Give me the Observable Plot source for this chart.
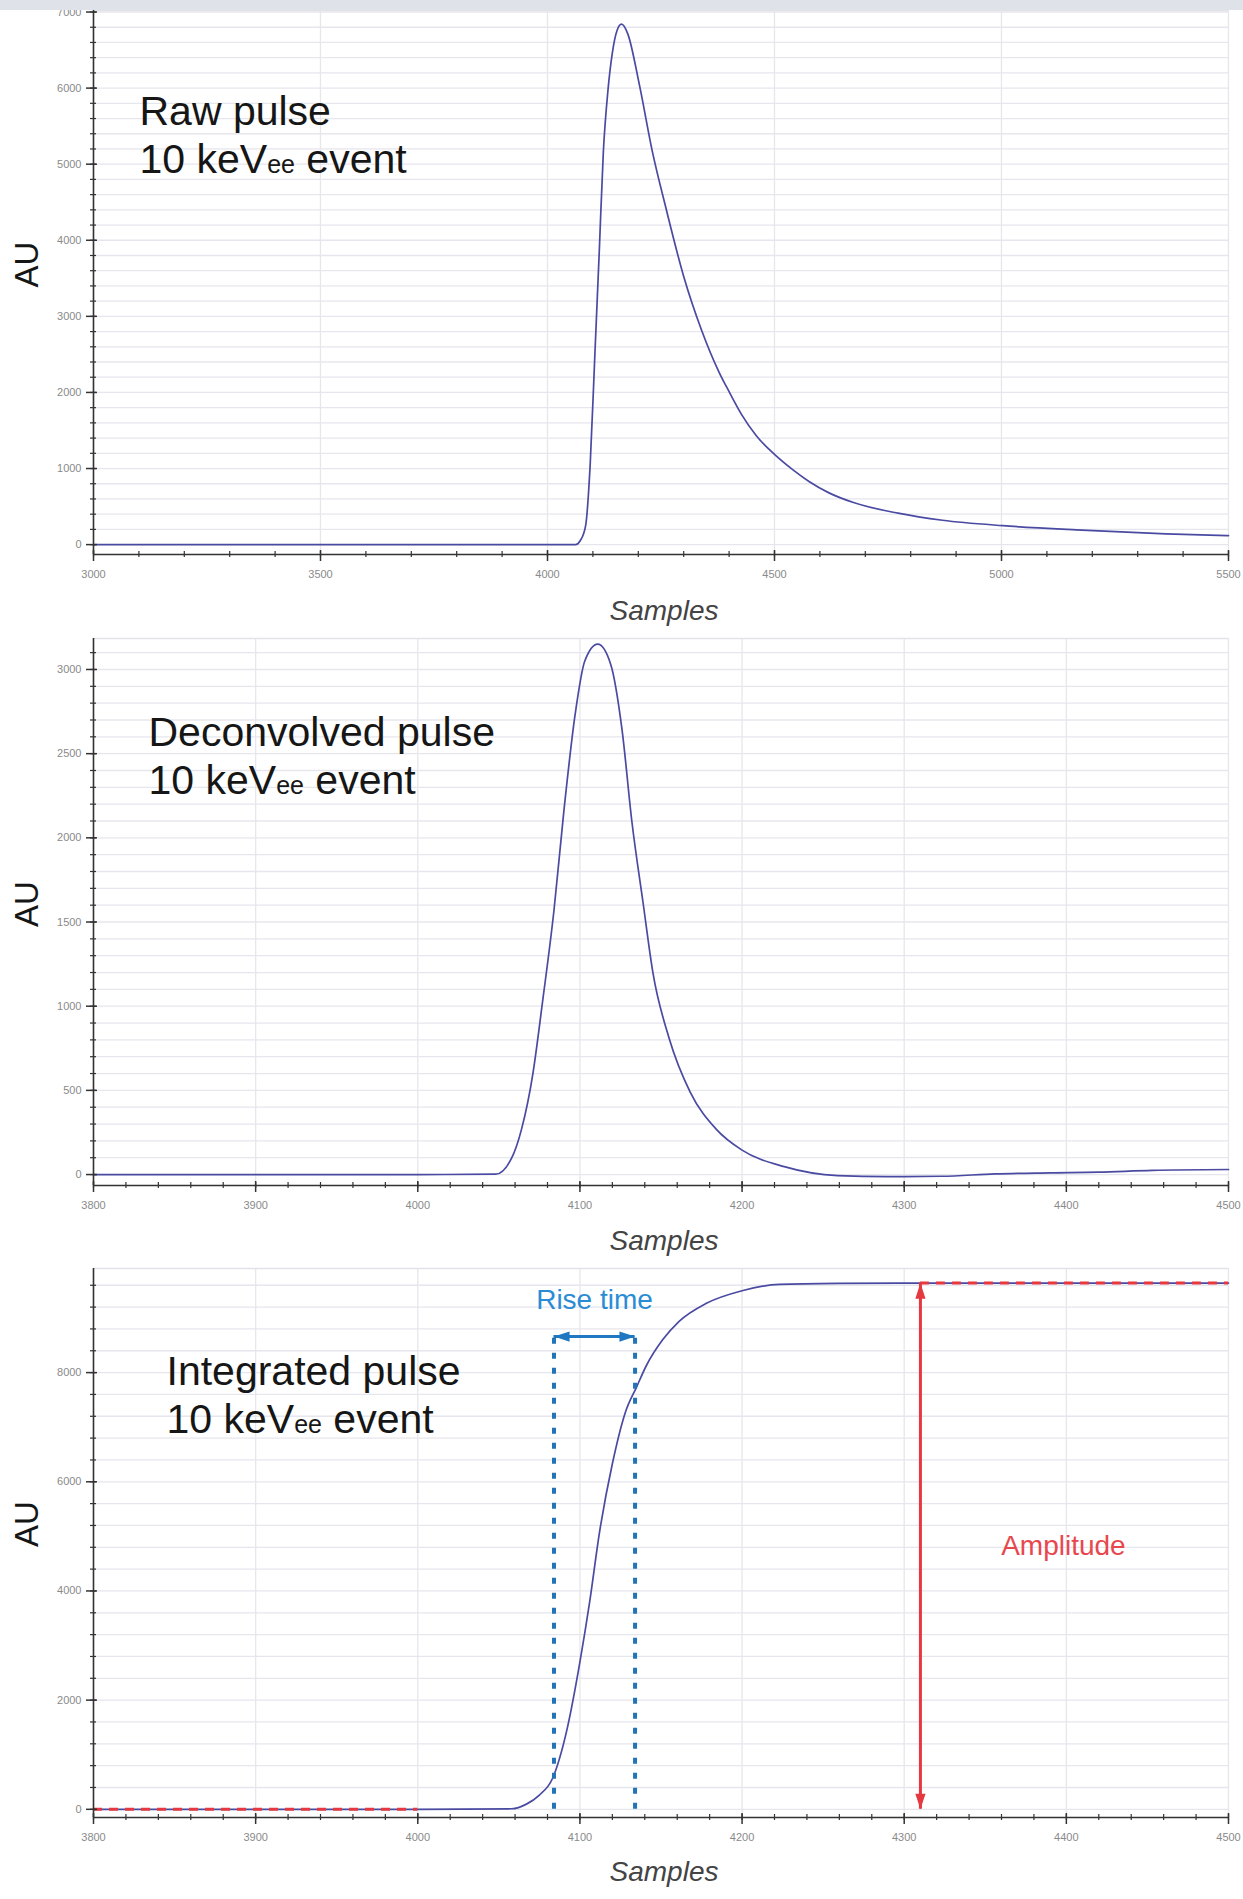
<!DOCTYPE html>
<html>
<head>
<meta charset="utf-8">
<script src="https://cdn.jsdelivr.net/npm/d3@7"></script>
<script src="https://cdn.jsdelivr.net/npm/@observablehq/plot@0.6"></script>
<style>
  body { margin: 0; background: #fff; }
  #page { position: relative; width: 1243px; height: 1899px; overflow: hidden; background: #fff; }
  #band { position: absolute; left: 0; top: 0; width: 1243px; height: 10px; background: #dfe2e8; z-index: 2; }
  #page svg { display: block; }
</style>
</head>
<body>
<div id="page"><div id="band"></div></div>
<script>
// Raw pulse trace (samples, AU)
const rawSamples = [3000, 3500, 4000, 4062, 4072, 4084, 4094, 4104, 4114, 4123, 4133, 4143, 4153, 4163, 4177, 4202, 4231, 4261, 4300, 4339, 4378, 4400, 4428, 4460, 4500, 4540, 4576, 4620, 4674, 4772, 4870, 5003, 5165, 5362, 5500];
const rawAU      = [0, 0, 0, 0, 50, 250, 1050, 2450, 3850, 5160, 5960, 6470, 6755, 6840, 6710, 6055, 5165, 4420, 3525, 2825, 2265, 2010, 1705, 1430, 1185, 985, 830, 680, 553, 413, 320, 249, 193, 142, 118];

// Deconvolved pulse trace
const deconvSamples = [3800, 3900, 4000, 4048, 4058, 4064, 4071, 4077, 4084, 4090, 4097, 4103, 4111, 4119, 4126, 4132, 4139, 4145, 4155, 4168, 4184, 4200, 4226, 4259, 4290, 4323, 4356, 4390, 4420, 4453, 4500];
const deconvAU      = [0, 0, 0, 2, 100, 270, 600, 1030, 1570, 2150, 2730, 3050, 3150, 3030, 2640, 2100, 1610, 1200, 810, 490, 270, 145, 47, -6, -12, -10, 4, 10, 14, 25, 30];

// Integrated pulse trace
const intSamples = [3800, 3900, 4000, 4058, 4067, 4075, 4083, 4092, 4100, 4106, 4112, 4120, 4128, 4135, 4141, 4151, 4161, 4178, 4200, 4223, 4260, 4300, 4400, 4500];
const intAU      = [0, 0, 0, 10, 95, 260, 560, 1460, 2700, 3800, 5060, 6330, 7270, 7740, 8130, 8600, 8935, 9270, 9500, 9617, 9635, 9640, 9640, 9640];

// Annotations on the integrated pulse
const baselineSpan = [3800, 4000];
const amplitudeSample = 4310;
const amplitudeAU = 9640;
const riseEdges = [4084, 4134];
const riseLevel = 8660;

// Tick labels
const rawXTicks = [3000, 3500, 4000, 4500, 5000, 5500];
const rawYTicks = [0, 1000, 2000, 3000, 4000, 5000, 6000, 7000];
const zoomXTicks = [3800, 3900, 4000, 4100, 4200, 4300, 4400, 4500];
const deconvYTicks = [0, 500, 1000, 1500, 2000, 2500, 3000];
const intYTicks = [0, 2000, 4000, 6000, 8000];

const titles = ["Raw pulse", "Deconvolved pulse", "Integrated pulse"];
const eventLine = "10 keVee event";

const ink = "#333";
const gridColor = "#e6e6ed";
const traceColor = "#4a4aa2";
const red = "#e5393f";
const blue = "#1f78c1";

const zip = (xs, ys) => xs.map((x, i) => ({x, y: ys[i]}));

// Narrow filled arrowhead with its tip at the anchor point, pointing up
const arrowHead = {
  draw(ctx, size) {
    const r = Math.sqrt(size / Math.PI);
    ctx.moveTo(0, 0);
    ctx.lineTo(0.85 * r, 2.6 * r);
    ctx.lineTo(-0.85 * r, 2.6 * r);
    ctx.closePath();
  }
};

function panel(cfg) {
  const {height, marginTop, marginBottom, xDomain, yDomain, xMajor, xMinor, yMajor, yMinor, series} = cfg;
  const fmt = d => String(d);
  const marks = [
    Plot.ruleY(yMinor, {stroke: gridColor, strokeWidth: 1.3}),
    Plot.ruleX(xMajor, {stroke: gridColor, strokeWidth: 1.3}),
    Plot.ruleY([yDomain[1]], {stroke: "#e2e2e8", strokeWidth: 1.3}),
    Plot.line(series, {x: "x", y: "y", stroke: traceColor, strokeWidth: 1.7, curve: "monotone-x"}),
    ...(cfg.extra || []),
    Plot.ruleX([xDomain[0]], {stroke: ink, strokeWidth: 1.6}),
    Plot.ruleY([yDomain[0]], {stroke: ink, strokeWidth: 1.6}),
    Plot.axisY(yMinor, {tickSize: 6, dx: 3, fill: "none", stroke: ink, strokeWidth: 1.2, label: null}),
    Plot.axisY(yMajor, {tickSize: 11, dx: 4, fill: "none", stroke: ink, strokeWidth: 1.5, label: null}),
    Plot.axisY(yMajor, {tickSize: 0, tickPadding: 12, fontSize: 11, fill: "#8a8a8a", tickFormat: fmt, label: null}),
    Plot.axisX(xMinor, {tickSize: 6, dy: -3, fill: "none", stroke: ink, strokeWidth: 1.2, label: null}),
    Plot.axisX(xMajor, {tickSize: 11, dy: -4, fill: "none", stroke: ink, strokeWidth: 1.5, label: null}),
    Plot.axisX(xMajor, {tickSize: 0, tickPadding: 16, fontSize: 11, fill: "#8a8a8a", tickFormat: fmt, label: null}),
    Plot.text([cfg.title], {frameAnchor: "top-left", dx: cfg.titleDx, dy: cfg.titleDy, fontSize: 41, textAnchor: "start", lineAnchor: "middle", fill: "#161616"}),
    Plot.text([eventLine], {frameAnchor: "top-left", dx: cfg.titleDx, dy: cfg.titleDy + 48, fontSize: 41, textAnchor: "start", lineAnchor: "middle", fill: "#161616"}),
    Plot.text(["AU"], {frameAnchor: "left", dx: -66, dy: cfg.auDy, rotate: -90, fontSize: 33, fill: "#161616"}),
    Plot.text(["Samples"], {frameAnchor: "bottom", dx: 3, dy: cfg.samplesDy, fontSize: 28, fontStyle: "italic", fill: "#444", lineAnchor: "middle"})
  ];
  const svg = Plot.plot({
    width: 1243,
    height,
    marginLeft: 93,
    marginRight: 15,
    marginTop,
    marginBottom,
    x: {domain: xDomain},
    y: {domain: yDomain},
    style: {fontFamily: "'Liberation Sans', Arial, sans-serif", background: "transparent", overflow: "visible"},
    marks
  });
  // "ee" is set smaller after "keV"
  svg.querySelectorAll("text").forEach(t => {
    if (t.textContent === eventLine) {
      t.textContent = "";
      const ns = "http://www.w3.org/2000/svg";
      const parts = [["10 keV", null], ["ee", "25px"], [" event", null]];
      for (const [s, size] of parts) {
        const span = document.createElementNS(ns, "tspan");
        span.textContent = s;
        if (size) span.setAttribute("font-size", size);
        t.appendChild(span);
      }
    }
  });
  return svg;
}

const page = document.getElementById("page");

page.appendChild(panel({
  height: 630, marginTop: 10, marginBottom: 76,
  xDomain: [3000, 5500], yDomain: [-130, 7020],
  xMajor: rawXTicks, xMinor: d3.range(3000, 5501, 100),
  yMajor: rawYTicks, yMinor: d3.range(0, 7001, 200),
  series: zip(rawSamples, rawAU),
  title: titles[0], titleDx: 46, titleDy: 101, auDy: 5, samplesDy: 57
}));

page.appendChild(panel({
  height: 630, marginTop: 8, marginBottom: 75,
  xDomain: [3800, 4500], yDomain: [-65, 3184],
  xMajor: zoomXTicks, xMinor: d3.range(3800, 4501, 20),
  yMajor: deconvYTicks, yMinor: d3.range(0, 3101, 100),
  series: zip(deconvSamples, deconvAU),
  title: titles[1], titleDx: 55, titleDy: 94, auDy: 15, samplesDy: 56
}));

const riseMid = (riseEdges[0] + riseEdges[1]) / 2;
page.appendChild(panel({
  height: 639, marginTop: 8, marginBottom: 82,
  xDomain: [3800, 4500], yDomain: [-150, 9907],
  xMajor: zoomXTicks, xMinor: d3.range(3800, 4501, 20),
  yMajor: intYTicks, yMinor: d3.range(0, 9901, 400),
  series: zip(intSamples, intAU),
  title: titles[2], titleDx: 73, titleDy: 103, auDy: 4, samplesDy: 55,
  extra: [
    // baseline and plateau reference levels
    Plot.ruleY([{y: 0, x1: baselineSpan[0], x2: baselineSpan[1]}, {y: amplitudeAU, x1: amplitudeSample, x2: 4500}],
      {y: "y", x1: "x1", x2: "x2", stroke: red, strokeWidth: 3, strokeDasharray: "9,7"}),
    // amplitude arrow
    Plot.ruleX([amplitudeSample], {y1: 0, y2: amplitudeAU, stroke: red, strokeWidth: 3}),
    Plot.dot([{x: amplitudeSample, y: amplitudeAU, a: 0}, {x: amplitudeSample, y: 0, a: 180}],
      {x: "x", y: "y", rotate: "a", r: 6, symbol: arrowHead, fill: red, stroke: "none"}),
    Plot.text(["Amplitude"], {x: amplitudeSample, y: amplitudeAU / 2, dx: 143, fontSize: 28, fill: "#e8474e"}),
    // rise-time window
    Plot.ruleX(riseEdges, {y1: 0, y2: riseLevel, stroke: "#2374b7", strokeWidth: 4, strokeDasharray: "6,9"}),
    Plot.ruleY([riseLevel], {x1: riseEdges[0], x2: riseEdges[1], stroke: blue, strokeWidth: 3}),
    Plot.dot([{x: riseEdges[0], y: riseLevel, a: -90}, {x: riseEdges[1], y: riseLevel, a: 90}],
      {x: "x", y: "y", rotate: "a", r: 6, symbol: arrowHead, fill: blue, stroke: "none"}),
    Plot.text(["Rise time"], {x: riseMid, y: riseLevel, dy: -37, fontSize: 28, fill: "#2a8cd4"})
  ]
}));
</script>
</body>
</html>
